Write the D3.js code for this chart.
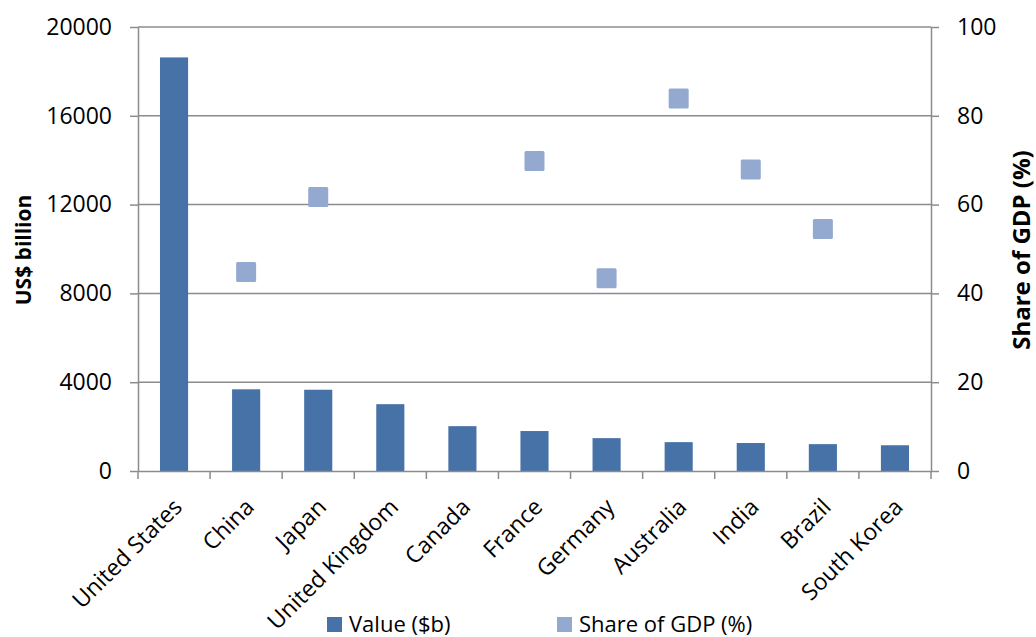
<!DOCTYPE html>
<html>
<head>
<meta charset="utf-8">
<script src="https://cdn.jsdelivr.net/npm/d3@7"></script>
<style>
  body { margin: 0; background: #fff; }
  svg { display: block; font-family: 'Open Sans', sans-serif; }
</style>
</head>
<body>
<div id="chart"></div>
<script>
const countries = ['United States', 'China', 'Japan', 'United Kingdom', 'Canada', 'France',
  'Germany', 'Australia', 'India', 'Brazil', 'South Korea'];
const values = [18630, 3680, 3660, 3010, 2020, 1800, 1480, 1300, 1260, 1210, 1160];
const shareOfGdp = [null, 44.8, 61.7, null, null, 69.8, 43.4, 83.9, 67.9, 54.5, null];
const leftTicks = [0, 4000, 8000, 12000, 16000, 20000];
const rightTicks = [0, 20, 40, 60, 80, 100];

const W = 1036, H = 637;
const margin = { top: 27, right: 105, bottom: 166, left: 138 };
const width = W - margin.left - margin.right;
const height = H - margin.top - margin.bottom;

const svg = d3.select('#chart').append('svg')
  .attr('width', W)
  .attr('height', H);

const g = svg.append('g')
  .attr('transform', `translate(${margin.left},${margin.top})`);

const x = d3.scaleBand().domain(countries).range([0, width]).padding(0);
const yLeft = d3.scaleLinear().domain([0, 20000]).range([height, 0]);
const yRight = d3.scaleLinear().domain([0, 100]).range([height, 0]);

const gridColor = '#8c8c8c';

// gridlines
g.append('g')
  .selectAll('line')
  .data(leftTicks.filter(d => d > 0))
  .join('line')
  .attr('x1', 0).attr('x2', width)
  .attr('y1', d => yLeft(d)).attr('y2', d => yLeft(d))
  .attr('stroke', gridColor).attr('stroke-width', 1.5);

// bars
const barW = x.bandwidth() * 0.39;
g.append('g')
  .selectAll('rect')
  .data(values)
  .join('rect')
  .attr('x', (d, i) => x(countries[i]) + (x.bandwidth() - barW) / 2)
  .attr('y', d => yLeft(d))
  .attr('width', barW)
  .attr('height', d => height - yLeft(d))
  .attr('fill', '#4672a8');

// markers
const ms = 20;
g.append('g')
  .selectAll('rect')
  .data(shareOfGdp.map((v, i) => ({ v, c: countries[i] })).filter(d => d.v !== null))
  .join('rect')
  .attr('x', d => x(d.c) + x.bandwidth() / 2 - ms / 2)
  .attr('y', d => yRight(d.v) - ms / 2)
  .attr('width', ms).attr('height', ms)
  .attr('rx', 1.5)
  .attr('fill', '#93a9d0');

// axes
function styleAxis(sel) {
  sel.selectAll('path').attr('stroke', gridColor).attr('stroke-width', 1.5);
  sel.selectAll('line').attr('stroke', gridColor).attr('stroke-width', 1.5);
  sel.selectAll('text').attr('fill', '#000').style('font-size', '23px')
    .style('font-family', "'Open Sans', sans-serif");
}

g.append('g')
  .call(d3.axisLeft(yLeft).tickValues(leftTicks).tickFormat(d3.format('d'))
    .tickSize(8).tickSizeOuter(0).tickPadding(18))
  .call(styleAxis);

g.append('g')
  .attr('transform', `translate(${width},0)`)
  .call(d3.axisRight(yRight).tickValues(rightTicks).tickSize(8).tickSizeOuter(0).tickPadding(18))
  .call(styleAxis);

const xAxis = g.append('g')
  .attr('transform', `translate(0,${height})`)
  .call(d3.axisBottom(x).tickSize(0).tickFormat(''))
  .call(styleAxis);

// category boundary ticks
xAxis.append('g')
  .selectAll('line')
  .data(d3.range(countries.length + 1))
  .join('line')
  .attr('x1', i => i * x.step()).attr('x2', i => i * x.step())
  .attr('y1', 0).attr('y2', 8)
  .attr('stroke', gridColor).attr('stroke-width', 1.5);

// category labels
g.append('g')
  .selectAll('text')
  .data(countries)
  .join('text')
  .attr('transform', d => `translate(${x(d) + x.bandwidth() / 2 - 2},${height + 26}) rotate(-45)`)
  .attr('text-anchor', 'end')
  .attr('dy', '0.7em')
  .style('font-size', '23px')
  .text(d => d);

// axis titles
svg.append('text')
  .attr('transform', `translate(31,250) rotate(-90)`)
  .attr('text-anchor', 'middle')
  .style('font-size', '21px').style('font-weight', 'bold')
  .text('US$ billion');

svg.append('text')
  .attr('transform', `translate(1030,250) rotate(-90)`)
  .attr('text-anchor', 'middle')
  .style('font-size', '24px').style('font-weight', 'bold')
  .text('Share of GDP (%)');

// legend
const legend = [
  { label: 'Value ($b)', color: '#4672a8', x: 327 },
  { label: 'Share of GDP (%)', color: '#93a9d0', x: 557 }
];
const lg = svg.append('g');
legend.forEach(l => {
  lg.append('rect').attr('x', l.x).attr('y', 617).attr('width', 15).attr('height', 15).attr('fill', l.color);
  lg.append('text').attr('x', l.x + 22).attr('y', 632).style('font-size', '22px').text(l.label);
});
</script>
</body>
</html>
